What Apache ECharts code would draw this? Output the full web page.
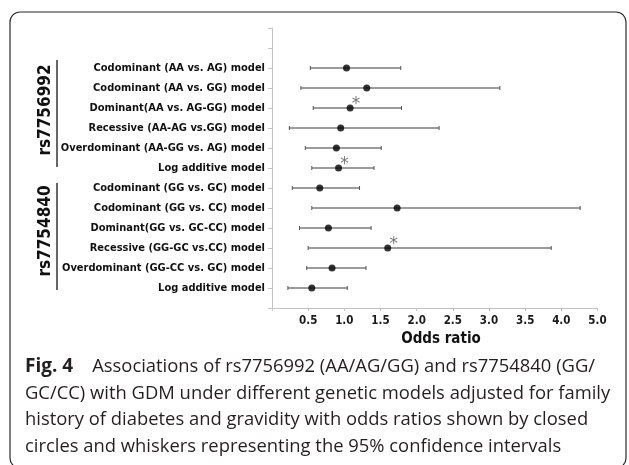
<!DOCTYPE html>
<html>
<head>
<meta charset="utf-8">
<script src="https://cdn.jsdelivr.net/npm/echarts@6/dist/echarts.min.js"></script>
<style>html,body{margin:0;padding:0;background:#fff;}#main{width:629px;height:465px;}</style>
</head>
<body>
<div id="main"></div>
<script>
const rowLabels = [
  'Codominant (AA vs. AG) model',
  'Codominant (AA vs. GG) model',
  'Dominant(AA vs. AG-GG) model',
  'Recessive (AA-AG vs.GG) model',
  'Overdominant (AA-GG vs. AG) model',
  'Log additive model',
  'Codominant (GG vs. GC) model',
  'Codominant (GG vs. CC) model',
  'Dominant(GG vs. GC-CC) model',
  'Recessive (GG-GC vs.CC) model',
  'Overdominant (GG-CC vs. GC) model',
  'Log additive model'
];
const oddsRatio = [1.03, 1.31, 1.08, 0.95, 0.89, 0.92, 0.66, 1.73, 0.78, 1.60, 0.83, 0.55];
const ciLow     = [0.53, 0.40, 0.57, 0.24, 0.46, 0.55, 0.28, 0.55, 0.38, 0.50, 0.48, 0.22];
const ciHigh    = [1.78, 3.15, 1.79, 2.31, 1.51, 1.41, 1.21, 4.26, 1.37, 3.86, 1.30, 1.04];
const significant = [false, false, true, false, false, true, false, false, false, true, false, false];
const groupNames = ['rs7756992', 'rs7754840'];
const xTickLabels = ['', '0.5', '1.0', '1.5', '2.0', '2.5', '3.0', '3.5', '4.0', '5.0'];
const xAxisTitle = 'Odds ratio';
const captionBold = 'Fig. 4';
const captionLines = [
  'Associations of rs7756992 (AA/AG/GG) and rs7754840 (GG/',
  'GC/CC) with GDM under different genetic models adjusted for family',
  'history of diabetes and gravidity with odds ratios shown by closed',
  'circles and whiskers representing the 95% confidence intervals'
];

const N = rowLabels.length;
const rowY = i => N - i;
const labelFont = "'DejaVu Sans Condensed', 'DejaVu Sans', sans-serif";
const capFont = "'Open Sans', 'Noto Sans', sans-serif";

const whiskerData = rowLabels.map((_, i) => [ciLow[i], ciHigh[i], rowY(i)]);
const pointData = rowLabels.map((_, i) => [oddsRatio[i], rowY(i)]);
const starData = [];
significant.forEach((s, i) => { if (s) starData.push([oddsRatio[i], rowY(i)]); });

const chart = echarts.init(document.getElementById('main'));
const graphics = [
  { type: 'rect', shape: { x: 10, y: 12, width: 616, height: 456, r: 10 },
    style: { fill: 'none', stroke: '#2a2a2a', lineWidth: 1.2 }, z: 0 },
  { type: 'line', shape: { x1: 57, y1: 60, x2: 57, y2: 167 }, style: { stroke: '#333', lineWidth: 1.5 } },
  { type: 'line', shape: { x1: 57, y1: 183, x2: 57, y2: 290 }, style: { stroke: '#333', lineWidth: 1.5 } },
  { type: 'text', x: 46, y: 110, rotation: Math.PI / 2,
    style: { text: groupNames[0], align: 'center', verticalAlign: 'middle',
      font: "bold 17px " + labelFont, fill: '#111' } },
  { type: 'text', x: 46, y: 231, rotation: Math.PI / 2,
    style: { text: groupNames[1], align: 'center', verticalAlign: 'middle',
      font: "bold 17px " + labelFont, fill: '#111' } },
  { type: 'text', x: 441, y: 339,
    style: { text: xAxisTitle, align: 'center', verticalAlign: 'middle',
      font: "bold 15px " + labelFont, fill: '#111' } }
];
const capY = [366.5, 393.5, 420, 446.5];
captionLines.forEach((t, k) => {
  graphics.push({ type: 'text', x: 25, y: capY[k],
    style: {
      text: k === 0 ? '{b|' + captionBold + '}' + t : t,
      align: 'left', verticalAlign: 'middle',
      font: "18.4px " + capFont, fill: '#231f20',
      rich: { b: { fontWeight: 'bold', fontSize: 19, fontFamily: capFont, fill: '#231f20', padding: [0, 19, 0, 0] } }
    } });
});

chart.setOption({
  animation: false,
  grid: { left: 272, right: 31.5, top: 28, bottom: 157, containLabel: false, outerBoundsMode: 'none' },
  xAxis: {
    type: 'value', min: 0, max: 4.5, interval: 0.5,
    axisLine: { show: true, lineStyle: { color: '#c4c4c4', width: 1 } },
    axisTick: { show: true, length: 3, lineStyle: { color: '#c4c4c4' } },
    splitLine: { show: false },
    axisLabel: {
      margin: 7,
      fontFamily: labelFont, fontWeight: 'bold', fontSize: 11.5, color: '#1a1a1a',
      formatter: (v) => xTickLabels[Math.round(v / 0.5)] || ''
    }
  },
  yAxis: {
    type: 'value', min: 0, max: N + 2, interval: 1,
    axisLine: { show: true, lineStyle: { color: '#c4c4c4', width: 1 } },
    axisTick: { show: true, length: 4, lineStyle: { color: '#c4c4c4' } },
    splitLine: { show: false },
    axisLabel: {
      margin: 7,
      fontFamily: labelFont, fontWeight: 'bold', fontSize: 11, color: '#111',
      formatter: (v) => (v >= 1 && v <= N) ? rowLabels[N - v] : ''
    }
  },
  series: [
    {
      type: 'custom', data: whiskerData, z: 2,
      renderItem: (params, api) => {
        const lo = api.coord([api.value(0), api.value(2)]);
        const hi = api.coord([api.value(1), api.value(2)]);
        const st = { stroke: '#7a7a7a', lineWidth: 1.5 };
        const cap = { stroke: '#555', lineWidth: 1 };
        return { type: 'group', children: [
          { type: 'line', shape: { x1: lo[0], y1: lo[1], x2: hi[0], y2: hi[1] }, style: st },
          { type: 'line', shape: { x1: lo[0], y1: lo[1] - 2, x2: lo[0], y2: lo[1] + 2 }, style: cap },
          { type: 'line', shape: { x1: hi[0], y1: hi[1] - 2, x2: hi[0], y2: hi[1] + 2 }, style: cap }
        ] };
      }
    },
    {
      type: 'scatter', data: pointData, z: 3, symbol: 'circle', symbolSize: 7,
      itemStyle: { color: '#000' }
    },
    {
      type: 'scatter', data: starData, z: 4, symbol: 'circle', symbolSize: 1,
      itemStyle: { color: 'rgba(0,0,0,0)' },
      label: { show: true, formatter: '*', position: 'inside', offset: [6, -3],
        fontFamily: "'DejaVu Sans', sans-serif", fontSize: 17, color: '#555' }
    }
  ],
  graphic: graphics
});
</script>
</body>
</html>
